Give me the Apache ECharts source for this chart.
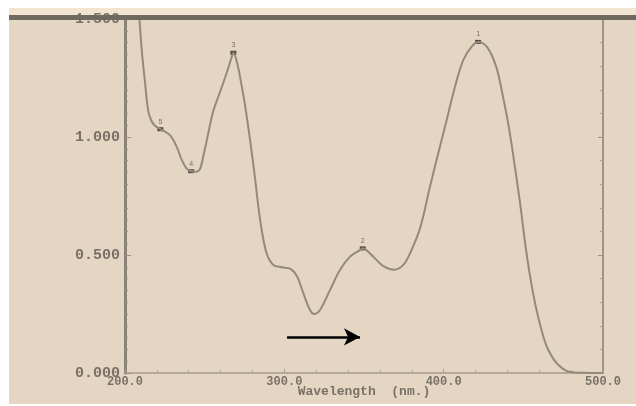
<!DOCTYPE html>
<html>
<head>
<meta charset="utf-8">
<script src="https://cdn.jsdelivr.net/npm/echarts@6/dist/echarts.min.js"></script>
<style>
html,body{margin:0;padding:0;background:#ffffff;}
#chart{width:636px;height:406px;}
</style>
</head>
<body>
<div id="chart"></div>
<script>
// ---- data ----
var wavelength = [208.5,210.5,212.6,214.6,216.5,218.5,222.2,228.2,232.4,235.6,238.7,241.5,244.5,247.1,249.1,252.3,255.4,259.6,263.8,267.0,268.0,270.5,273.0,275.5,278.5,281.6,283.7,285.8,288.9,293.1,298.3,303.6,307.8,311.9,316.1,318.6,322.4,328.7,334.9,341.2,347.5,349.2,355.8,362.1,369.0,374.7,378.9,385.2,391.4,396.6,401.9,407.1,412.3,417.6,421.6,427.3,433.0,437.4,441.2,445.0,448.1,451.3,454.4,457.6,461.4,465.1,471.4,479.5,488.0,496.0,500.0];
var absorbance = [1.560,1.369,1.229,1.110,1.070,1.050,1.033,1.008,0.959,0.903,0.866,0.855,0.853,0.865,0.917,1.017,1.110,1.190,1.271,1.340,1.357,1.310,1.225,1.128,0.987,0.826,0.705,0.606,0.507,0.458,0.448,0.442,0.412,0.338,0.267,0.250,0.267,0.352,0.436,0.493,0.521,0.528,0.493,0.453,0.438,0.458,0.507,0.614,0.789,0.931,1.072,1.213,1.326,1.383,1.403,1.381,1.297,1.165,1.030,0.860,0.712,0.542,0.403,0.288,0.182,0.106,0.038,0.004,0.001,0.000,0.000];

var peakWl = [421.6, 349.2, 268.0, 241.5, 222.2];
var peakAbs = [1.403, 0.528, 1.357, 0.855, 1.033];
var peakLabels = ['1', '2', '3', '4', '5'];

var xTickLabels = {200: '200.0', 300: '300.0', 400: '400.0', 500: '500.0'};
var yTickLabels = {0: '0.000', 0.5: '0.500', 1: '1.000', 1.5: '1.500'};
var xAxisTitle = 'Wavelength  (nm.)';

var arrowStart = [301.7, 0.153];
var arrowEnd = [347.5, 0.153];

// ---- chart ----
var chart = echarts.init(document.getElementById('chart'), null, {renderer: 'canvas'});
var txt = '#7a7166';
var font = '"Liberation Mono", "DejaVu Sans Mono", monospace';

var option = {
  backgroundColor: '#ffffff',
  animation: false,
  graphic: [
    {type: 'rect', z: -10, silent: true, shape: {x: 9, y: 8, width: 627, height: 396}, style: {fill: '#e4d6c3'}},
    {type: 'rect', z: -9, silent: true, shape: {x: 9, y: 8, width: 627, height: 8}, style: {fill: '#f3e4d1'}},
    {type: 'rect', z: 100, silent: true, shape: {x: 9, y: 15, width: 627, height: 5}, style: {fill: '#6f695f'}}
  ],
  grid: {left: 125, right: 33, top: 19, bottom: 33, containLabel: false, outerBoundsMode: 'none'},
  xAxis: {
    type: 'value', min: 200, max: 500, interval: 100,
    name: xAxisTitle, nameLocation: 'middle', nameGap: 12, nameMoveOverlap: false,
    nameTextStyle: {color: txt, fontFamily: font, fontSize: 13, fontWeight: 'bold'},
    axisLine: {show: true, lineStyle: {color: '#a69c8f', width: 1.5}},
    axisTick: {show: true, inside: true, length: 4, lineStyle: {color: '#a69c8f'}},
    minorTick: {show: true, splitNumber: 5, length: 3, lineStyle: {color: '#b0a699'}},
    splitLine: {show: false},
    axisLabel: {color: txt, fontFamily: font, fontSize: 12, fontWeight: 'bold', margin: 3,
      formatter: function (v) { return xTickLabels[v] !== undefined ? xTickLabels[v] : ''; }}
  },
  yAxis: [{
    type: 'value', min: 0, max: 1.5, interval: 0.5,
    axisLine: {show: true, lineStyle: {color: '#8a8276', width: 3}},
    axisTick: {show: true, inside: true, length: 6, lineStyle: {color: '#9a9084'}},
    minorTick: {show: true, splitNumber: 10, length: 3, lineStyle: {color: '#9a9084'}},
    splitLine: {show: false},
    axisLabel: {color: txt, fontFamily: font, fontSize: 15, fontWeight: 'bold', margin: 5,
      formatter: function (v) { return yTickLabels[v] !== undefined ? yTickLabels[v] : ''; }}
  }, {
    type: 'value', min: 0, max: 1.5, interval: 0.5, position: 'right',
    axisLine: {show: true, lineStyle: {color: '#9d9387', width: 2}},
    axisTick: {show: true, inside: true, length: 5, lineStyle: {color: '#9d9387'}},
    minorTick: {show: true, splitNumber: 5, length: 3, lineStyle: {color: '#a89e91'}},
    splitLine: {show: false},
    axisLabel: {show: false}
  }],
  series: [{
    type: 'line',
    data: wavelength.map(function (w, i) { return [w, absorbance[i]]; }),
    smooth: 0.35,
    showSymbol: false,
    clip: true,
    lineStyle: {color: '#938a7e', width: 2},
    markLine: {
      silent: true,
      symbol: ['none', 'arrow'],
      symbolSize: [13, 16],
      label: {show: false},
      lineStyle: {color: '#000000', width: 2.5, type: 'solid'},
      data: [[{coord: arrowStart}, {coord: arrowEnd}]]
    }
  }, {
    type: 'scatter',
    data: peakWl.map(function (w, i) { return [w, peakAbs[i]]; }),
    symbol: 'rect',
    symbolSize: [6, 4],
    itemStyle: {color: '#2e2b27'},
    label: {show: true, position: 'top', distance: 2, fontSize: 7, color: '#5a544c',
      formatter: function (p) { return peakLabels[p.dataIndex]; }}
  }]
};
chart.setOption(option);
</script>
</body>
</html>
